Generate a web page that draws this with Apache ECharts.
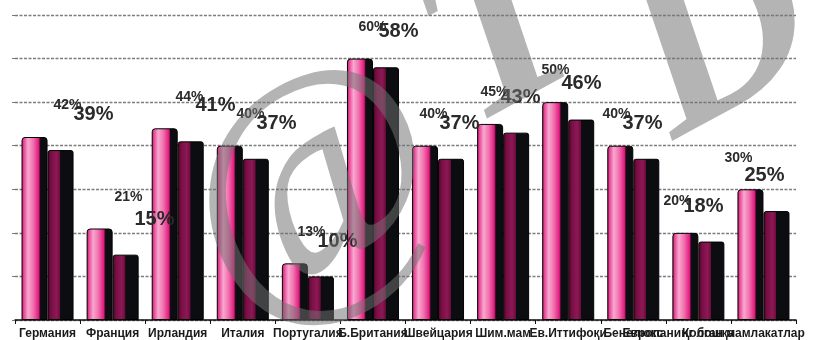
<!DOCTYPE html>
<html>
<head>
<meta charset="utf-8">
<script src="https://cdn.jsdelivr.net/npm/echarts@6/dist/echarts.min.js"></script>
<style>html,body{margin:0;padding:0;background:#fff}#c{width:820px;height:340px}</style>
</head>
<body>
<div id="c"></div>
<script>
const categories = ["Германия","Франция","Ирландия","Италия","Португалия","Б.Британия","Швейцария","Шим.мам","Ев.Иттифоқи","Бенелюкс","Европанинг бошқа","Қолган мамлакатлар"];
const seriesA = [42,21,44,40,13,60,40,45,50,40,20,30];
const seriesB = [39,15,41,37,10,58,37,43,46,37,18,25];
const yTicks = [0,10,20,30,40,50,60,70];

const chart = echarts.init(document.getElementById('c'), null, {renderer:'canvas'});
const pinkGrad = new echarts.graphic.LinearGradient(0,0,1,0,[
  {offset:0,color:'#b50c5c'},{offset:0.07,color:'#e23a8e'},{offset:0.25,color:'#f9a8d0'},
  {offset:0.45,color:'#f170ae'},{offset:0.66,color:'#e01a7e'},{offset:0.72,color:'#1c0a13'},
  {offset:0.76,color:'#0b0d11'},{offset:1,color:'#0b0d11'}]);
const purpleGrad = new echarts.graphic.LinearGradient(0,0,1,0,[
  {offset:0,color:'#4a0627'},{offset:0.15,color:'#7a0f46'},{offset:0.35,color:'#8d1855'},
  {offset:0.48,color:'#6c0c3d'},{offset:0.5,color:'#0b0d11'},{offset:1,color:'#0b0d11'}]);
const wmFill = 'rgba(113,113,113,0.53)';

const option = {
  animation:false,
  backgroundColor:'#ffffff',
  grid:[
    {left:15,right:24,top:15,bottom:19},
    {left:50,right:38,top:15,bottom:19}
  ],
  xAxis:[
    {type:'category',gridIndex:0,data:categories,
     axisLine:{lineStyle:{color:'#111',width:1.5}},
     axisTick:{show:true,length:4,lineStyle:{color:'#111'}},
     axisLabel:{interval:0,margin:8,color:'#1a1a1a',fontSize:12,fontWeight:'bold',fontFamily:'Liberation Sans, Arial, sans-serif',
       formatter:function(v,i){return i>=10?'{s|'+v+'}':v;},
       rich:{s:{padding:[0,40,0,0],fontSize:12,fontWeight:'bold',color:'#1a1a1a',fontFamily:'Liberation Sans, Arial, sans-serif'}}}},
    {type:'category',gridIndex:1,data:categories,show:false}
  ],
  yAxis:[
    {type:'value',gridIndex:0,min:yTicks[0],max:yTicks[yTicks.length-1],interval:10,
     axisLabel:{show:false},axisLine:{show:false},
     axisTick:{show:true,length:3,lineStyle:{color:'#777'}},
     splitLine:{lineStyle:{color:'#7d7d7d',type:[3,1.5],width:1.4}}},
    {type:'value',gridIndex:1,min:0,max:70,show:false,splitLine:{show:false}}
  ],
  series:[
    {type:'bar',xAxisIndex:0,yAxisIndex:0,data:seriesA,barWidth:26,barGap:'0%',
     itemStyle:{color:pinkGrad,borderColor:'#000',borderWidth:1,borderRadius:[3,3,0,0]}},
    {type:'bar',xAxisIndex:0,yAxisIndex:0,data:seriesB,barWidth:26,barGap:'0%',
     itemStyle:{color:purpleGrad,borderColor:'#000',borderWidth:1,borderRadius:[2,2,0,0]}},
    {type:'bar',xAxisIndex:1,yAxisIndex:1,data:seriesA,barWidth:26,barGap:'0%',silent:true,z:5,
     itemStyle:{color:'rgba(0,0,0,0)'},
     label:{show:true,position:'top',distance:25,formatter:'{c}%',color:'#2a2a2a',fontSize:14,fontWeight:'bold',fontFamily:'Liberation Sans, Arial, sans-serif'}},
    {type:'bar',xAxisIndex:1,yAxisIndex:1,data:seriesB,barWidth:26,barGap:'0%',silent:true,z:6,
     itemStyle:{color:'rgba(0,0,0,0)'},
     label:{show:true,position:'top',distance:26,formatter:'{c}%',color:'#2a2a2a',fontSize:20,fontWeight:'bold',fontFamily:'Liberation Sans, Arial, sans-serif'}}
  ],
  graphic:[
    {type:'text',z:100,x:315,y:195,rotation:0.5,
     style:{text:'@',font:'italic 280px "Liberation Serif", serif',fill:wmFill,textAlign:'center',textVerticalAlign:'middle'}},
    {type:'text',z:100,x:505,y:35,rotation:0.5,
     style:{text:'T',font:'italic bold 250px "Liberation Serif", serif',fill:wmFill,textAlign:'center',textVerticalAlign:'middle'}},
    {type:'text',z:100,x:722,y:40,rotation:0.5,
     style:{text:'D',font:'italic bold 250px "Liberation Serif", serif',fill:wmFill,textAlign:'center',textVerticalAlign:'middle'}}
  ]
};
chart.setOption(option);
</script>
</body>
</html>
